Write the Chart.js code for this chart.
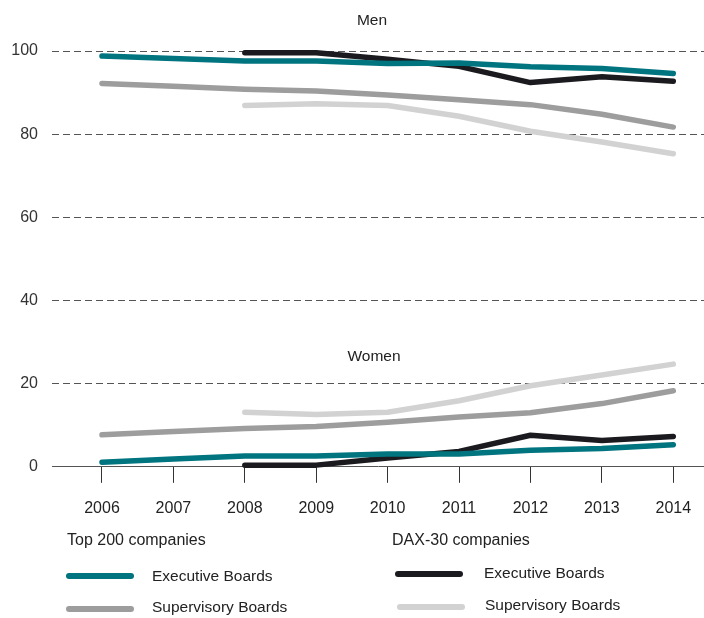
<!DOCTYPE html>
<html>
<head>
<meta charset="utf-8">
<script src="https://cdn.jsdelivr.net/npm/chart.js@4"></script>
<style>
  html, body { margin: 0; padding: 0; background: #fff; }
  #wrap { width: 704px; height: 618px; position: relative; }
</style>
</head>
<body>
<div id="wrap"><canvas id="boardsChart"></canvas></div>
<script>
const years = [2006, 2007, 2008, 2009, 2010, 2011, 2012, 2013, 2014];
const yTicks = [0, 20, 40, 60, 80, 100];

// Top 200 companies
const top200ExecMen = [98.8, 98.2, 97.6, 97.6, 97.0, 97.1, 96.2, 95.8, 94.6];
const top200ExecWomen = [1.1, 1.9, 2.6, 2.6, 3.1, 3.1, 4.0, 4.4, 5.3];
const top200SupMen = [92.2, 91.5, 90.8, 90.4, 89.4, 88.3, 87.1, 84.8, 81.7];
const top200SupWomen = [7.7, 8.5, 9.2, 9.7, 10.7, 12.0, 13.0, 15.2, 18.3];

// DAX-30 companies (from 2008)
const daxExecMen = [null, null, 99.6, 99.6, 98.0, 96.3, 92.4, 93.8, 92.7];
const daxExecWomen = [null, null, 0.4, 0.4, 2.1, 3.7, 7.6, 6.3, 7.3];
const daxSupMen = [null, null, 86.9, 87.3, 86.9, 84.3, 80.7, 78.1, 75.3];
const daxSupWomen = [null, null, 13.1, 12.6, 13.1, 15.9, 19.5, 22.1, 24.7];

const TEAL = "#00747f";
const GRAY = "#9d9d9d";
const BLACK = "#1b1a1f";
const LIGHT = "#d2d2d2";
const FONT = "'Liberation Sans', Arial, sans-serif";

function pts(values) {
  return years.map((yr, i) => ({ x: yr, y: values[i] }));
}

function line(label, values, color, order) {
  return {
    label: label,
    data: pts(values),
    borderColor: color,
    backgroundColor: color,
    borderWidth: 5.5,
    borderCapStyle: "round",
    borderJoinStyle: "round",
    pointRadius: 0,
    pointHoverRadius: 0,
    tension: 0,
    fill: false,
    clip: false,
    order: order,
  };
}

const textPlugin = {
  id: "textPlugin",
  afterDraw(chart) {
    const ctx = chart.ctx;
    ctx.save();
    ctx.fillStyle = "#222";
    ctx.textBaseline = "middle";
    ctx.textAlign = "center";
    ctx.font = "15.5px " + FONT;
    ctx.fillText("Men", 372, 21);
    ctx.fillText("Women", 374, 357);

    // legend
    ctx.textAlign = "left";
    ctx.font = "16px " + FONT;
    ctx.fillText("Top 200 companies", 67, 541);
    ctx.fillText("DAX-30 companies", 392, 541);
    ctx.font = "15.5px " + FONT;
    const items = [
      [66, 134, 576, 152, 577, "Executive Boards", TEAL],
      [66, 134, 609, 152, 608, "Supervisory Boards", GRAY],
      [395, 463, 574, 484, 574, "Executive Boards", BLACK],
      [397, 465, 607, 485, 606, "Supervisory Boards", LIGHT],
    ];
    items.forEach(([x1, x2, y, tx, ty, txt, col]) => {
      ctx.strokeStyle = col;
      ctx.lineWidth = 6;
      ctx.lineCap = "round";
      ctx.beginPath();
      ctx.moveTo(x1 + 3, y);
      ctx.lineTo(x2 - 3, y);
      ctx.stroke();
      ctx.fillText(txt, tx, ty);
    });
    ctx.restore();
  },
};

new Chart(document.getElementById("boardsChart").getContext("2d"), {
  type: "line",
  data: {
    datasets: [
      line("Top 200 Executive Boards (men)", top200ExecMen, TEAL, 1),
      line("Top 200 Executive Boards (women)", top200ExecWomen, TEAL, 1),
      line("DAX-30 Executive Boards (men)", daxExecMen, BLACK, 2),
      line("DAX-30 Executive Boards (women)", daxExecWomen, BLACK, 2),
      line("Top 200 Supervisory Boards (men)", top200SupMen, GRAY, 3),
      line("Top 200 Supervisory Boards (women)", top200SupWomen, GRAY, 3),
      line("DAX-30 Supervisory Boards (men)", daxSupMen, LIGHT, 4),
      line("DAX-30 Supervisory Boards (women)", daxSupWomen, LIGHT, 4),
    ],
  },
  options: {
    responsive: true,
    maintainAspectRatio: false,
    animation: false,
    layout: { padding: { top: 51, right: 0, bottom: 84, left: 0 } },
    plugins: {
      legend: { display: false },
      tooltip: { enabled: false },
    },
    scales: {
      x: {
        type: "linear",
        min: 2005.3,
        max: 2014.43,
        afterBuildTicks(scale) {
          scale.ticks = years.map((v) => ({ value: v }));
        },
        afterFit(scale) {
          scale.paddingLeft = 0;
          scale.paddingRight = 0;
        },
        grid: {
          drawOnChartArea: false,
          drawTicks: true,
          tickLength: 16,
          color: "#333",
          lineWidth: 1,
        },
        border: { display: true, color: "#555", width: 1 },
        ticks: {
          padding: 16,
          color: "#222",
          font: { family: FONT, size: 16 },
          callback: (v) => String(v),
          maxRotation: 0,
        },
      },
      y: {
        min: 0,
        max: 100,
        afterBuildTicks(scale) {
          scale.ticks = yTicks.map((v) => ({ value: v }));
        },
        afterFit(scale) {
          scale.width = 52;
        },
        grid: {
          drawTicks: false,
          color: "#555",
          lineWidth: 1,
        },
        border: { display: false, dash: [7, 4] },
        ticks: {
          padding: 14,
          color: "#333",
          font: { family: FONT, size: 16 },
        },
      },
    },
  },
  plugins: [textPlugin],
});
</script>
</body>
</html>
